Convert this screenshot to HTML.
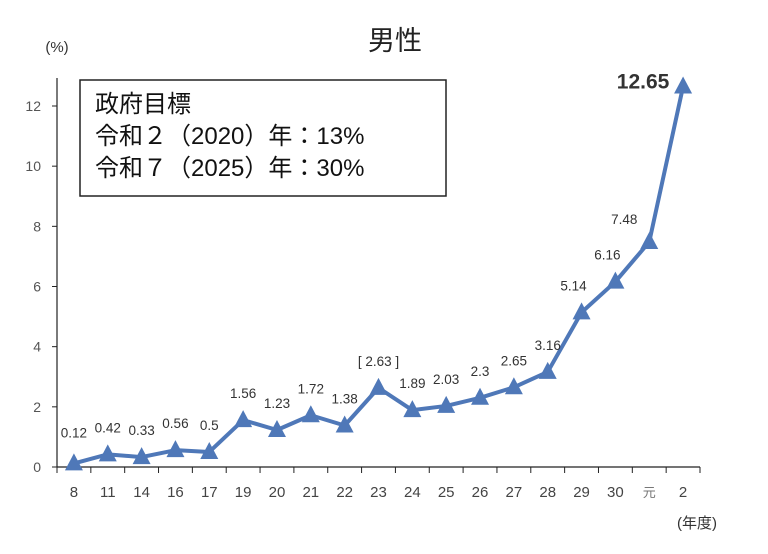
<!DOCTYPE html>
<html><head><meta charset="utf-8"><style>
body{margin:0;background:#fff;}
svg text{font-family:"Liberation Sans","Noto Sans CJK JP",sans-serif;}
</style></head><body>
<svg width="768" height="549" xmlns="http://www.w3.org/2000/svg">
<text x="395" y="50" font-size="27" text-anchor="middle" fill="#222">男性</text>
<text x="57" y="52" font-size="15" text-anchor="middle" fill="#333">(%)</text>
<text x="697" y="528" font-size="15" text-anchor="middle" fill="#333">(年度)</text>
<g id="axes"></g>
<g id="marks"></g>
<rect x="80" y="80" width="366" height="116" fill="#fff" stroke="#222" stroke-width="1.5"/>
<text x="95" y="112" font-size="24" fill="#111">政府目標</text>
<text x="95" y="144" font-size="24" fill="#111">令和２（2020）年：13%</text>
<text x="95" y="176" font-size="24" fill="#111">令和７（2025）年：30%</text>
</svg>
<script>
const categories=["8","11","14","16","17","19","20","21","22","23","24","25","26","27","28","29","30","元","2"];
const values=[0.12,0.42,0.33,0.56,0.5,1.56,1.23,1.72,1.38,2.63,1.89,2.03,2.3,2.65,3.16,5.14,6.16,7.48,12.65];
const yTicks=[0,2,4,6,8,10,12];
const ns="http://www.w3.org/2000/svg";
const x0=57,x1=700,yb=467,yt=106;
const step=(x1-x0)/categories.length;
const xs=i=>x0+step*(i+0.5);
const ys=v=>yb-(v/12)*(yb-yt);
const axes=document.getElementById('axes'),marks=document.getElementById('marks');
function mk(p,tag,at){const e=document.createElementNS(ns,tag);for(const k in at)e.setAttribute(k,at[k]);p.appendChild(e);return e;}
let e=mk(axes,'line',{x1:x0,y1:78,x2:x0,y2:yb,stroke:'#222','stroke-width':1.2});


e=mk(axes,'line',{x1:x0,y1:yb,x2:x1,y2:yb,stroke:'#222','stroke-width':1.2});


yTicks.forEach(t=>{const y=ys(t);
 mk(axes,'line',{x1:x0-5,y1:y,x2:x0,y2:y,stroke:'#222'});
 e=mk(axes,'text',{x:x0-16,y:y+5,'font-size':14,'text-anchor':'end',fill:'#555'});e.textContent=t;
 
 
});
for(let i=0;i<=categories.length;i++){const x=x0+step*i;mk(axes,'line',{x1:x,y1:yb,x2:x,y2:yb+6,stroke:'#222'});}
categories.forEach((c,i)=>{e=mk(axes,'text',{x:xs(i),y:497,'font-size':c==='元'?13:15,'text-anchor':'middle',fill:c==='元'?'#777':'#444'});e.textContent=c;
 
 
});
const pts=values.map((v,i)=>xs(i)+','+ys(v)).join(' ');
e=mk(marks,'polyline',{points:pts,fill:'none',stroke:'#4f78b8','stroke-width':4,'stroke-linejoin':'round'});


values.forEach((v,i)=>{const x=xs(i),y=ys(v);
 e=mk(marks,'polygon',{points:`${x},${y-10} ${x-9},${y+7} ${x+9},${y+7}`,fill:'#4f78b8'});
 
 
 const last=i===values.length-1;
 let lx=x,ly=y-22;
 if(i===0){ly=y-26;}
 if(last){lx=x-40;ly=y+2;}
 else if(i===17){lx=x-25;ly=y-18;}
 else if(i>=15){lx=x-8;ly=y-22;}
 e=mk(marks,'text',{x:lx,y:ly,'font-size':last?21:13.5,'font-weight':last?'bold':'normal','text-anchor':'middle',fill:'#333'});
 e.textContent=(i===9?'[ ':'')+v+(i===9?' ]':'');
 
 
});
</script>
</body></html>
